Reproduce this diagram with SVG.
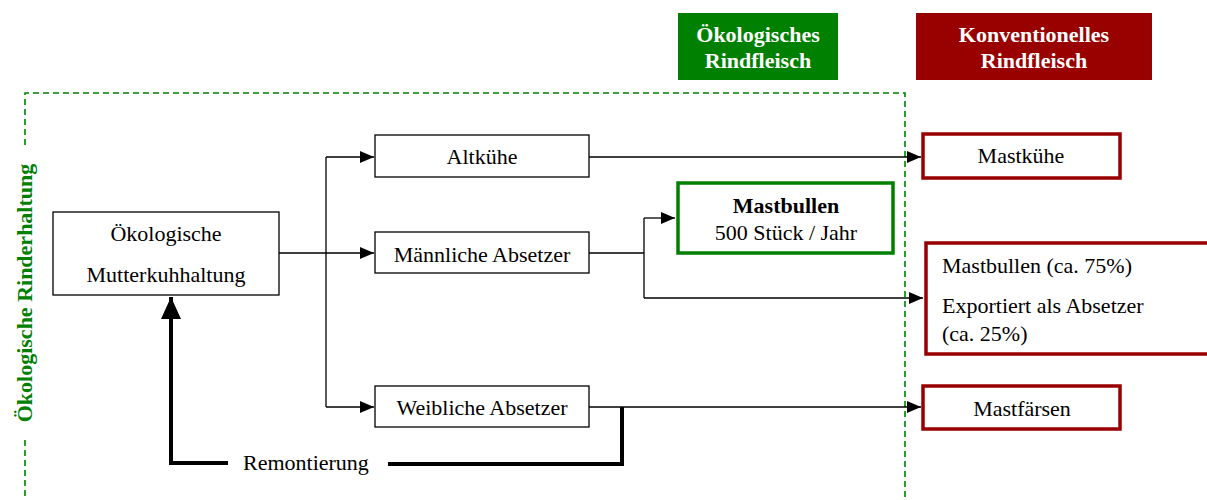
<svg xmlns="http://www.w3.org/2000/svg" width="1207" height="500" viewBox="0 0 1207 500">
<defs>
<style>
text{font-family:"Liberation Serif","Times New Roman",serif;font-size:22px;fill:#000}
.c{text-anchor:middle}
.b{font-weight:bold}
.w{fill:#fff}
.box{fill:#fff;stroke:#000;stroke-width:1.3}
.red{fill:#fff;stroke:#990000;stroke-width:3.5}
.grn{fill:#fff;stroke:#008000;stroke-width:3.5}
.ln{fill:none;stroke:#000;stroke-width:1.3}
.thick{fill:none;stroke:#000;stroke-width:4}
.dash{fill:none;stroke:#008000;stroke-width:1.6;stroke-dasharray:6 4}
</style>
<marker id="ah" markerWidth="14" markerHeight="12" refX="14" refY="6" orient="auto" markerUnits="userSpaceOnUse">
<path d="M0,0 L14,6 L0,12 Z" fill="#000"/>
</marker>
<marker id="ahb" markerWidth="22" markerHeight="20" refX="22" refY="10" orient="auto" markerUnits="userSpaceOnUse">
<path d="M0,0 L22,10 L0,20 Z" fill="#000"/>
</marker>
</defs>
<rect width="1207" height="500" fill="#fff"/>

<g id="frame">
<path class="dash" d="M25,145 L25,93 L905,93 L905,500"/>
<path class="dash" d="M25,440 L25,500"/>
<text class="c b" transform="translate(32,293) rotate(-90)" style="fill:#008000">Ökologische Rinderhaltung</text>
</g>

<g id="hdr-oeko">
<rect x="678" y="13" width="160" height="67" fill="#008000"/>
<text class="c b w" x="758" y="42">Ökologisches</text>
<text class="c b w" x="758" y="68">Rindfleisch</text>
</g>
<g id="hdr-konv">
<rect x="916" y="13" width="236" height="67" fill="#990000"/>
<text class="c b w" x="1034" y="42">Konventionelles</text>
<text class="c b w" x="1034" y="68">Rindfleisch</text>
</g>

<g id="connectors">
<path class="ln" d="M279,253 L326,253"/>
<path class="ln" d="M326,157 L326,407"/>
<path class="ln" d="M326,157 L374,157" marker-end="url(#ah)"/>
<path class="ln" d="M326,253 L374,253" marker-end="url(#ah)"/>
<path class="ln" d="M326,407 L374,407" marker-end="url(#ah)"/>
<path class="ln" d="M589,157 L921,157" marker-end="url(#ah)"/>
<path class="ln" d="M589,253 L644,253"/>
<path class="ln" d="M644,218 L644,298"/>
<path class="ln" d="M644,218 L675,218" marker-end="url(#ah)"/>
<path class="ln" d="M644,298 L923,298" marker-end="url(#ah)"/>
<path class="ln" d="M589,407 L921,407" marker-end="url(#ah)"/>
<path class="thick" d="M622,407 L622,464 L388,464"/>
<path class="thick" d="M228,463 L171,463 L171,297" marker-end="url(#ahb)"/>
</g>

<g id="n-mutter">
<rect class="box" x="53" y="212" width="226" height="83"/>
<text class="c" x="166" y="241">Ökologische</text>
<text class="c" x="166" y="282">Mutterkuhhaltung</text>
</g>
<g id="n-altkuehe">
<rect class="box" x="375" y="135" width="214" height="42"/>
<text class="c" x="482" y="164">Altkühe</text>
</g>
<g id="n-maennlich">
<rect class="box" x="375" y="232" width="214" height="41"/>
<text class="c" x="482" y="262">Männliche Absetzer</text>
</g>
<g id="n-weiblich">
<rect class="box" x="375" y="386" width="214" height="41"/>
<text class="c" x="482" y="415">Weibliche Absetzer</text>
</g>
<g id="n-mastbullen-oeko">
<rect class="grn" x="678" y="183" width="215" height="70"/>
<text class="c b" x="786" y="213">Mastbullen</text>
<text class="c" x="786" y="240">500 Stück / Jahr</text>
</g>
<g id="n-mastkuehe">
<rect class="red" x="923" y="134" width="197" height="44"/>
<text class="c" x="1021" y="163">Mastkühe</text>
</g>
<g id="n-mastbullen-konv">
<rect class="red" x="926" y="243" width="290" height="111"/>
<text x="942" y="273">Mastbullen (ca. 75%)</text>
<text x="942" y="313">Exportiert als Absetzer</text>
<text x="942" y="341">(ca. 25%)</text>
</g>
<g id="n-mastfaersen">
<rect class="red" x="923" y="386" width="197" height="43"/>
<text class="c" x="1022" y="416">Mastfärsen</text>
</g>
<g id="n-remont">
<text x="243" y="470">Remontierung</text>
</g>
</svg>
